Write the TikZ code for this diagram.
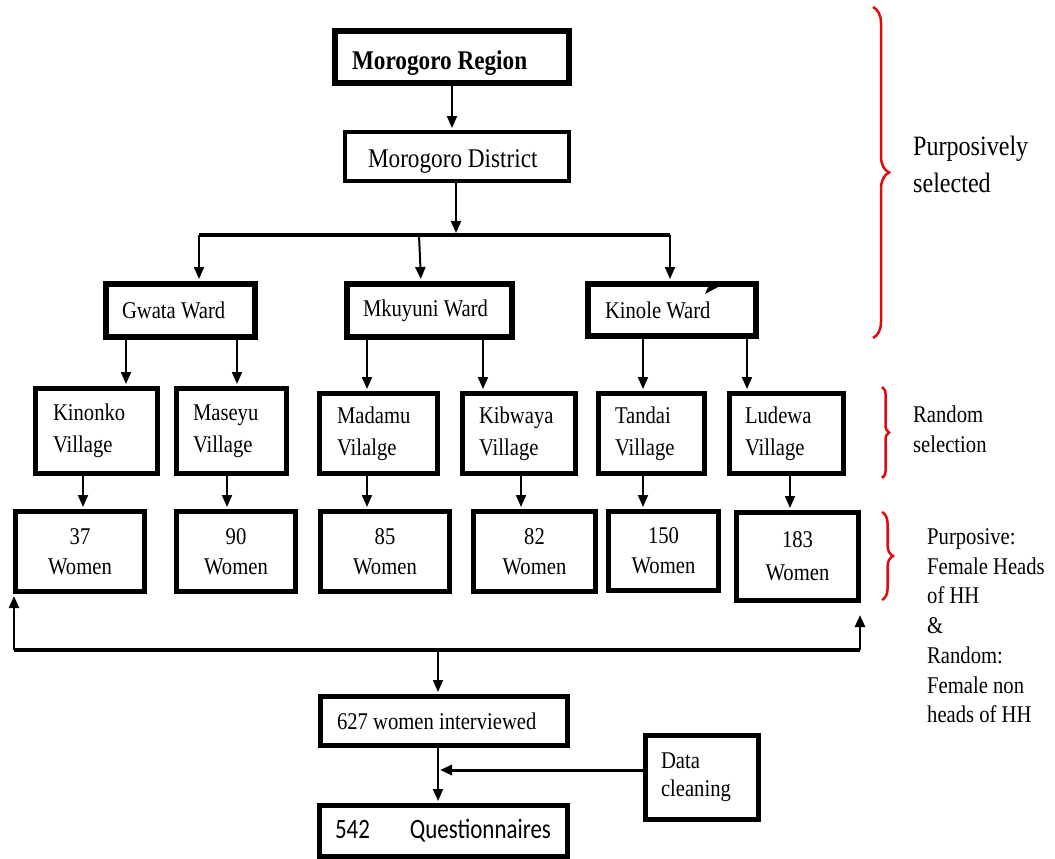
\documentclass[tikz,border=0pt]{standalone}
\usepackage{fontspec}
\setmainfont{Liberation Serif}[FakeStretch=0.86]
\newfontfamily\calibfont{Carlito}[FakeStretch=0.82]
\usetikzlibrary{arrows.meta,decorations.pathreplacing}
\definecolor{bred}{RGB}{225,10,10}
\newcommand\myfs[2]{\fontsize{#1}{#2}\selectfont}
\newcommand\lowr[2]{\raisebox{-#1}[\height][\depth]{#2}}
\begin{document}
\begin{tikzpicture}[x=1pt,y=-1pt,
  bx/.style={draw, line width=5pt, inner ysep=0pt, align=flush left, font=\myfs{24}{32}},
  wm/.style={bx, align=flush center, font=\myfs{24}{30}, inner xsep=4pt},
  arr/.style={line width=2pt, -{Triangle[length=12pt,width=10pt]}, shorten >=2pt},
  brc/.style={draw=bred, line width=2.5pt, decorate, decoration={brace, amplitude=#1}},
  rt/.style={align=left, inner sep=0pt, anchor=north west},
]
\useasboundingbox (0,0) rectangle (1055,859);

% top boxes
\node[bx, line width=6pt, font=\myfs{27}{32}\bfseries, minimum height=52pt, inner xsep=17pt, text width=200pt] (reg) at (452,57) {\lowr{6pt}{Morogoro Region}};
\node[bx, line width=4pt, font=\myfs{27}{32}, minimum height=49pt, inner xsep=23pt, text width=178pt] (dis) at (457,156.5) {\lowr{5pt}{Morogoro District}};

% wards
\node[bx, line width=6pt, minimum height=53pt, inner xsep=16pt, text width=117pt] (gwa) at (180.5,310.5) {Gwata Ward};
\node[bx, line width=6pt, minimum height=53pt, inner xsep=16pt, text width=133pt] (mku) at (429.5,310.5) {Mkuyuni Ward};
\node[bx, line width=6pt, minimum height=52pt, inner xsep=17pt, text width=134pt] (kin) at (672,310) {Kinole Ward};

% villages
\node[bx, minimum height=85pt, inner xsep=17.5pt, text width=87pt] (v1) at (96.5,431) {Kinonko\\Village};
\node[bx, minimum height=85pt, inner xsep=16.5pt, text width=77pt] (v2) at (231.5,431) {Maseyu\\Village};
\node[bx, minimum height=80pt, inner xsep=17.5pt, text width=83pt] (v3) at (378.5,433.5) {Madamu\\Vilalge};
\node[bx, minimum height=80pt, inner xsep=16.5pt, text width=80pt] (v4) at (519,433.5) {Kibwaya\\Village};
\node[bx, minimum height=80pt, inner xsep=16.5pt, text width=73pt] (v5) at (651.5,433.5) {Tandai\\Village};
\node[bx, minimum height=80pt, inner xsep=15.5pt, text width=83pt] (v6) at (786.5,433.5) {Ludewa\\Village};

% women
\node[wm, minimum height=80pt, text width=121pt] (w1) at (80,551.5) {37\\Women};
\node[wm, minimum height=80pt, text width=111pt] (w2) at (236,551.5) {90\\Women};
\node[wm, minimum height=80pt, text width=121pt] (w3) at (385,551.5) {85\\Women};
\node[wm, minimum height=80pt, text width=114pt] (w4) at (534.5,551.5) {82\\Women};
\node[wm, minimum height=79pt, text width=102pt] (w5) at (663.5,551) {150\\Women};
\node[wm, font=\myfs{24}{33}, minimum height=88pt, text width=114pt] (w6) at (797.5,556.5) {183\\Women};

% bottom
\node[bx, minimum height=49pt, inner xsep=16.5pt, text width=214pt] (int) at (444,721) {627 women interviewed};
\node[bx, font=\myfs{24}{28}, minimum height=84pt, inner xsep=15.5pt, text width=82pt] (dc) at (702,777.5) {Data\\cleaning};
\node[bx, font=\calibfont\myfs{28}{32}, minimum height=51pt, inner xsep=15.5pt, text width=217pt] (q) at (443.5,831) {\mbox{542\hspace{40pt}Questionnaires}};

% connectors top
\coordinate (bl) at (199,235);
\coordinate (bm) at (419,235);
\coordinate (br) at (670,235);
\draw[arr] (reg.south) -- (reg.south |- dis.north);
\draw[arr] ([xshift=-1pt]dis.south) -- ([xshift=-1pt]dis.south |- bl);
\draw[line width=4pt] (bl) -- (br);
\draw[arr] (bl) -- (bl |- gwa.north);
\draw[arr] (bm) -- ([xshift=2pt]bm |- mku.north);
\draw[arr] (br) -- (br |- kin.north);

% wards to villages
\draw[arr] (gwa.south -| 126,0) -- (v1.north -| 126,0);
\draw[arr] (gwa.south -| 237,0) -- (v2.north -| 237,0);
\draw[arr] (mku.south -| 367,0) -- (v3.north -| 367,0);
\draw[arr] (mku.south -| 483,0) -- (v4.north -| 483,0);
\draw[arr] (kin.south -| 643,0) -- (v5.north -| 643,0);
\draw[arr] (kin.south -| 747,0) -- (v6.north -| 747,0);

% villages to women
\draw[arr] (v1.south -| 83,0) -- (w1.north -| 83,0);
\draw[arr] (v2.south -| 227,0) -- (w2.north -| 227,0);
\draw[arr] (v3.south -| 367,0) -- (w3.north -| 367,0);
\draw[arr] (v4.south -| 521,0) -- (w4.north -| 521,0);
\draw[arr] ([yshift=3pt]v5.south -| 643,0) -- (w5.north -| 643,0);
\draw[arr] (v6.south -| 790,0) -- (w6.north -| 790,0);

% feedback
\coordinate (fl) at (14,650);
\coordinate (fm) at (438,650);
\coordinate (fr) at (860,650);
\coordinate (frt) at (860,613);
\draw[line width=4pt] (fl) -- (fr);
\draw[arr, line width=2.5pt] (fl) -- (fl |- w1.south);
\draw[arr, line width=2.5pt] (fr) -- (frt);
\draw[arr] (fm) -- (fm |- int.north);
\draw[arr] (int.south -| fm) -- (q.north -| fm);
\draw[arr, line width=3pt] (dc.west |- 0,770) -- (fm |- 0,770);

% stray arrowhead in Kinole box
\fill (705,294) -- (718,287) -- (709,285) -- cycle;

% braces
\draw[brc=16pt] (873,7) -- (873,338);
\draw[brc=7pt] (882,387) -- (882,478);
\draw[brc=11pt] (882,512) -- (882,600);

% side texts
\node[rt, font=\myfs{28}{37}] (ps) at (913,136) {Purposively\\selected};
\node[rt, font=\myfs{24}{30}] (rs) at (913,405.5) {Random\\selection};
\node[rt, font=\myfs{24}{29.7}] (pf) at (927,528.5) {Purposive:\\Female Heads\\of HH\\\&\\Random:\\Female non\\heads of HH};
\end{tikzpicture}
\end{document}
